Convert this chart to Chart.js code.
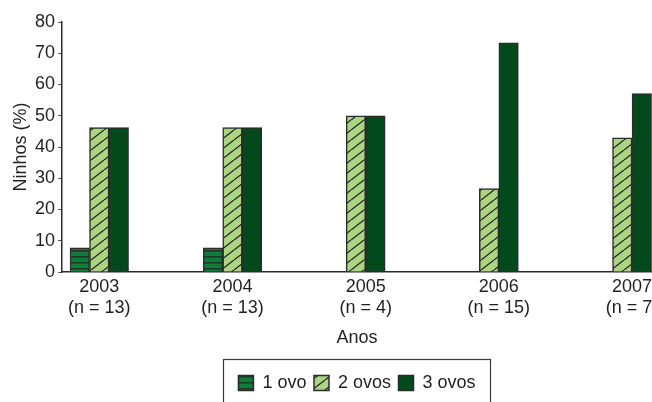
<!DOCTYPE html>
<html lang="pt">
<head>
<meta charset="utf-8">
<title>Ninhos por número de ovos</title>
<script src="https://cdn.jsdelivr.net/npm/chart.js@4/dist/chart.umd.min.js"></script>
<style>
  html, body { margin: 0; padding: 0; background: #ffffff; }
  canvas { display: block; }
</style>
</head>
<body>
<canvas id="chart" width="652" height="402"></canvas>
<script>
// Nest clutch sizes per year (% of nests)
const years = [2003, 2004, 2005, 2006, 2007];
const sampleSizes = [13, 13, 4, 15, 7];
const oneEgg = [7.7, 7.7, null, null, null];
const twoEggs = [46.2, 46.2, 50, 26.7, 42.9];
const threeEggs = [46.2, 46.2, 50, 73.3, 57.1];
const seriesNames = ['1 ovo', '2 ovos', '3 ovos'];
const yTicks = [0, 10, 20, 30, 40, 50, 60, 70, 80];

const FONT = "'Liberation Sans', Arial, sans-serif";
const TEXT = '#231f20';
const EDGE = '#2b2b2b';

// Horizontal stripes tile
function stripePattern(bg, line) {
  const c = document.createElement('canvas');
  c.width = 8; c.height = 6;
  const g = c.getContext('2d');
  g.fillStyle = bg; g.fillRect(0, 0, 8, 6);
  g.fillStyle = line; g.fillRect(0, 4, 8, 1.6);
  return g.createPattern(c, 'repeat');
}

// Forward-slash hatch tile
function hatchPattern(bg, line) {
  const w = 13, h = 10;
  const c = document.createElement('canvas');
  c.width = w; c.height = h;
  const g = c.getContext('2d');
  g.fillStyle = bg; g.fillRect(0, 0, w, h);
  g.strokeStyle = line; g.lineWidth = 1.3;
  for (const dx of [-w, 0, w]) {
    g.beginPath();
    g.moveTo(dx, h);
    g.lineTo(dx + w, 0);
    g.stroke();
  }
  return g.createPattern(c, 'repeat');
}

const fills = [
  stripePattern('#127a3b', '#1c3a25'),
  hatchPattern('#acd582', '#262626'),
  '#024a1c'
];

// Frame drawn around the legend entries
const legendFrame = {
  id: 'legendFrame',
  afterDraw(chart) {
    const boxes = chart.legend && chart.legend.legendHitBoxes;
    if (!boxes || !boxes.length) return;
    const first = boxes[0], last = boxes[boxes.length - 1];
    const left = first.left - 15.5;
    const right = last.left + last.width + 14.5;
    const top = first.top - 15.5;
    const ctx = chart.ctx;
    ctx.save();
    ctx.strokeStyle = '#3a3a3a';
    ctx.lineWidth = 1.2;
    ctx.strokeRect(Math.round(left) + 0.5, Math.round(top) + 0.5,
                   Math.round(right - left), chart.height + 20 - top);
    ctx.restore();
  }
};

new Chart(document.getElementById('chart'), {
  type: 'bar',
  data: {
    labels: years,
    datasets: [oneEgg, twoEggs, threeEggs].map((values, i) => ({
      label: seriesNames[i],
      data: values,
      backgroundColor: fills[i],
      borderColor: EDGE,
      borderWidth: 1.5,
      barThickness: 19.5,
      skipNull: true
    }))
  },
  options: {
    responsive: false,
    animation: false,
    layout: { padding: { left: 0, right: 0, top: 22, bottom: 0 } },
    plugins: {
      legend: {
        position: 'bottom',
        fullSize: false,
        labels: {
          font: { family: FONT, size: 18 },
          color: TEXT,
          boxWidth: 15,
          boxHeight: 15,
          padding: 7.5
        }
      },
      tooltip: { enabled: false }
    },
    scales: {
      x: {
        type: 'linear',
        min: 2002.72,
        max: 2007.15,
        offset: false,
        grid: { display: false, drawTicks: false },
        border: { display: true, color: EDGE, width: 1.5 },
        afterBuildTicks(axis) {
          axis.ticks = years.map(v => ({ value: v }));
        },
        afterFit(axis) {
          axis.paddingLeft = 0;
          axis.paddingRight = 0;
        },
        ticks: {
          autoSkip: false,
          maxRotation: 0,
          padding: 4,
          color: TEXT,
          font: { family: FONT, size: 18, lineHeight: 1.2 },
          callback(value) {
            const i = years.indexOf(value);
            return [String(value), '(n = ' + sampleSizes[i] + ')'];
          }
        },
        title: {
          display: true,
          text: 'Anos',
          color: TEXT,
          font: { family: FONT, size: 18, lineHeight: 1.2 },
          padding: { top: 4, bottom: 17.7 }
        }
      },
      y: {
        min: 0,
        max: 80,
        afterBuildTicks(axis) {
          axis.ticks = yTicks.map(v => ({ value: v }));
        },
        afterFit(axis) {
          axis.width = 62;
        },
        grid: {
          display: true,
          drawOnChartArea: false,
          drawTicks: true,
          tickLength: 4,
          color: '#555555',
          lineWidth: 1
        },
        border: { display: true, color: EDGE, width: 1.5 },
        ticks: {
          padding: 3,
          color: TEXT,
          font: { family: FONT, size: 18, lineHeight: 1.2 }
        },
        title: {
          display: true,
          text: 'Ninhos (%)',
          color: TEXT,
          font: { family: FONT, size: 18, lineHeight: 1.2 },
          padding: { top: 10.7, bottom: 0 }
        }
      }
    }
  },
  plugins: [legendFrame]
});
</script>
</body>
</html>
